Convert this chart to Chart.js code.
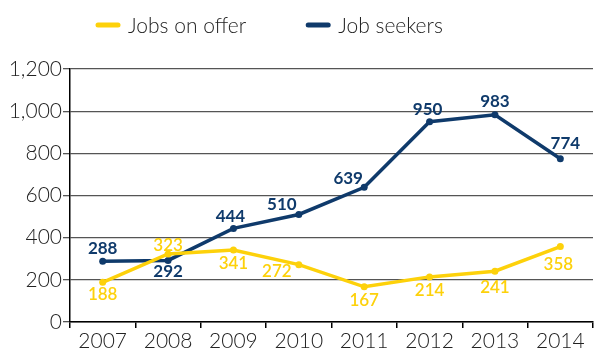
<!DOCTYPE html>
<html>
<head>
<meta charset="utf-8">
<script src="https://cdn.jsdelivr.net/npm/chart.js@4.4.1/dist/chart.umd.min.js"></script>
<style>
  html, body { margin: 0; padding: 0; background: #fff; }
  #wrap { width: 597px; height: 351px; }
</style>
</head>
<body>
<div id="wrap"><canvas id="chart"></canvas></div>
<script>
const years = ['2007', '2008', '2009', '2010', '2011', '2012', '2013', '2014'];
const jobsOnOffer = [188, 323, 341, 272, 167, 214, 241, 358];
const jobSeekers = [288, 292, 444, 510, 639, 950, 983, 774];
const yMax = 1200;
const yStep = 200;

const YELLOW = '#FDD10A';
const NAVY = '#0F3A6B';
const TEXT = '#222';
const AXIS_FONT = "Lato, 'Open Sans', sans-serif";
const LABEL_FONT = "Lato, 'Open Sans', sans-serif";

// label tweaks so the numbers sit clear of the lines: [dx, dy] per point
const offerNudge = [[0, 0], [0, 4], [0, 1], [-22, -6], [0, 1], [0, 1], [0, 4], [-2, 5]];
const seekerNudge = [[0, 0], [0, -1], [-3, 1], [-17, 3], [-16, 4], [-2, 0], [0, -1], [5, -3]];

// value labels: above the point when it's the higher series, below otherwise
const valueLabels = {
    id: 'valueLabels',
    afterDatasetsDraw(chart) {
        const ctx = chart.ctx;
        const sets = chart.data.datasets;
        ctx.save();
        ctx.textAlign = 'center';
        ctx.textBaseline = 'alphabetic';
        sets.forEach((ds, i) => {
            const other = sets[1 - i].data;
            const meta = chart.getDatasetMeta(i);
            ctx.fillStyle = ds.borderColor;
            ctx.font = ds.labelFont;
            meta.data.forEach((pt, j) => {
                const v = ds.data[j];
                const [dx, dy] = ds.labelNudge[j];
                const above = v >= other[j];
                const y = above ? pt.y - 7 + dy : pt.y + 6 + 12 + dy;
                ctx.fillText(String(v), pt.x + dx, y);
            });
        });
        ctx.restore();
    }
};

// legend: short thick line + name, laid out left to right
const lineLegend = {
    id: 'lineLegend',
    afterDraw(chart) {
        const ctx = chart.ctx;
        let x = 96;
        const y = 25;
        ctx.save();
        ctx.font = '300 21px ' + AXIS_FONT;
        ctx.textBaseline = 'alphabetic';
        chart.data.datasets.forEach(ds => {
            ctx.strokeStyle = ds.borderColor;
            ctx.lineWidth = 5;
            ctx.lineCap = 'round';
            ctx.beginPath();
            ctx.moveTo(x + 2, y);
            ctx.lineTo(x + 22, y);
            ctx.stroke();
            ctx.fillStyle = TEXT;
            ctx.fillText(ds.label, x + 32, y + 8);
            x += 32 + ctx.measureText(ds.label).width + 60;
        });
        ctx.restore();
    }
};

new Chart(document.getElementById('chart'), {
    type: 'line',
    data: {
        labels: years,
        datasets: [
            {
                label: 'Jobs on offer',
                data: jobsOnOffer,
                borderColor: YELLOW,
                backgroundColor: YELLOW,
                borderWidth: 3.5,
                pointRadius: 3.5,
                pointBorderWidth: 0,
                tension: 0,
                labelFont: '600 17px ' + LABEL_FONT,
                labelNudge: offerNudge
            },
            {
                label: 'Job seekers',
                data: jobSeekers,
                borderColor: NAVY,
                backgroundColor: NAVY,
                borderWidth: 3.5,
                pointRadius: 3.5,
                pointBorderWidth: 0,
                tension: 0,
                labelFont: 'bold 17px ' + LABEL_FONT,
                labelNudge: seekerNudge
            }
        ]
    },
    options: {
        responsive: true,
        maintainAspectRatio: false,
        animation: false,
        layout: { padding: { top: 69, right: -8, bottom: 0, left: 0 } },
        plugins: {
            legend: { display: false },
            tooltip: { enabled: false }
        },
        scales: {
            x: {
                offset: true,
                afterFit: s => {
                    s.height = 29;
                    s.paddingLeft = 0;
                    s.paddingRight = 0;
                },
                border: { color: '#000', width: 1.5 },
                grid: {
                    offset: true,
                    drawOnChartArea: false,
                    color: '#000',
                    lineWidth: 1.5,
                    tickLength: 6
                },
                ticks: {
                    color: TEXT,
                    padding: 3,
                    maxRotation: 0,
                    font: { family: AXIS_FONT, size: 21, weight: 300, lineHeight: 1 }
                }
            },
            y: {
                min: 0,
                max: yMax,
                afterFit: s => { s.width = 70; },
                border: { color: '#000', width: 1.5 },
                grid: {
                    color: '#555',
                    lineWidth: 1.3,
                    tickLength: 7
                },
                ticks: {
                    stepSize: yStep,
                    color: TEXT,
                    padding: 1,
                    font: { family: AXIS_FONT, size: 21, weight: 300, lineHeight: 1 }
                }
            }
        }
    },
    plugins: [valueLabels, lineLegend]
});
</script>
</body>
</html>
